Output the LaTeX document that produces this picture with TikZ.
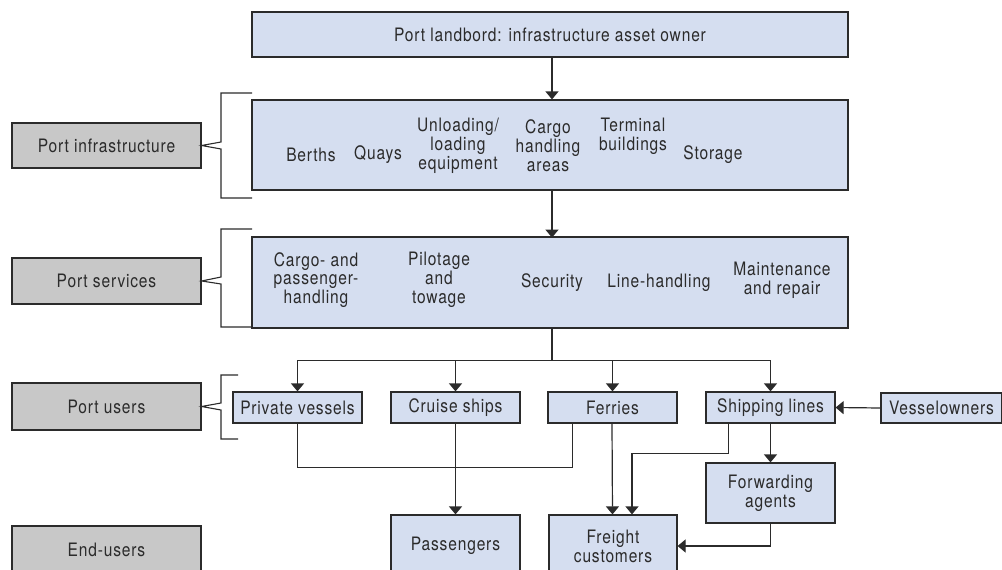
\documentclass[tikz,border=0pt]{standalone}
\usepackage{fontspec}
\setmainfont{TeX Gyre Heros}[FakeStretch=0.84,LetterSpace=4.5]
\usetikzlibrary{arrows.meta,calc}
\definecolor{boxblue}{HTML}{D5DEF0}
\definecolor{boxgray}{HTML}{C8C8C8}
\definecolor{ink}{HTML}{2B2B2B}
\begin{document}
\begin{tikzpicture}[x=1pt,y=-1pt,
  font=\fontsize{18.5}{18.8}\selectfont,
  every node/.style={text=ink},
  bluebox/.style={draw=ink,line width=1.2pt,fill=boxblue,inner sep=0pt,align=center},
  graybox/.style={draw=ink,line width=1.2pt,fill=boxgray,inner sep=0pt,
    minimum width=189pt,align=center},
  item/.style={align=center,inner sep=0pt},
  conn/.style={draw=ink,line width=1.2pt},
  arr/.style={conn,-{Triangle[width=13pt,length=8pt]}},
  bracket/.style={draw=ink,line width=1.1pt}]
\path[use as bounding box,clip] (0,0) rectangle (1002,570);

% main chain of blue boxes
\node[bluebox,minimum width=596pt,minimum height=45pt] (landlord) at (550,34.5)
  {Port landbord: infrastructure asset owner};
\node[bluebox,minimum width=596pt,minimum height=90pt] (infra) at (550,145) {};
\node[bluebox,minimum width=596pt,minimum height=91pt] (services) at (550,282.5) {};

% items inside the infrastructure box
\node[item] at (311,155) {Berths};
\node[item] at (378,155) {Quays};
\node[item] at (458,146) {Unloading/\\loading\\equipment};
\node[item] at (548,146) {Cargo\\handling\\areas};
\node[item] at (633,136) {Terminal\\buildings};
\node[item] at (713,155) {Storage};

% items inside the services box
\node[item] at (316,280) {Cargo- and\\passenger-\\handling};
\node[item] at (439,280) {Pilotage\\and\\towage};
\node[item] at (552,283) {Security};
\node[item] at (659,283) {Line-handling};
\node[item] at (782,280) {Maintenance\\and repair};

% port users
\node[bluebox,minimum width=129pt,minimum height=31pt] (pv) at (297.5,407.5) {Private vessels};
\node[bluebox,minimum width=129pt,minimum height=31pt] (cruise) at (455.5,407.5) {Cruise ships};
\node[bluebox,minimum width=129pt,minimum height=31pt] (ferries) at (612.5,407.5) {Ferries};
\node[bluebox,minimum width=129pt,minimum height=31pt] (shipping) at (770.5,407.5) {Shipping lines};
\node[bluebox,minimum width=121pt,minimum height=30pt] (vessel) at (941.5,408) {Vesselowners};
\node[bluebox,minimum width=129pt,minimum height=60pt] (forwarding) at (770.5,493) {Forwarding\\agents};

% end users
\node[bluebox,minimum width=129pt,minimum height=62pt] (passengers) at (455.5,546) {Passengers};
\node[bluebox,minimum width=128pt,minimum height=62pt] (freight) at (613,546) {Freight\\customers};

% level labels
\node[graybox,minimum height=45pt] (pinfra) at (106.5,145.5) {Port infrastructure};
\node[graybox,minimum height=46pt] (pserv) at (106.5,281) {Port services};
\node[graybox,minimum height=47pt] (pusers) at (106.5,406.5) {Port users};
\node[graybox,minimum height=48pt] (pend) at (106.5,550) {End-users};

% brackets joining labels to their level
\draw[bracket] (252,93) -- (221,93) -- (221,142) -- (pinfra.east) -- (221,149) -- (221,198) -- (252,198);
\draw[bracket] (252,229) -- (221,229) -- (221,277) -- (pserv.east) -- (221,284) -- (221,327) -- (252,327);
\draw[bracket] (238,375) -- (221,375) -- (221,403) -- (pusers.east) -- (221,410) -- (221,439) -- (238,439);

% vertical chain
\draw[arr] ($(landlord.south)+(2,0)$) -- ($(infra.north)+(2,0)$);
\draw[arr] ($(infra.south)+(2,0)$) -- ($(services.south)+(2,-91)$);

% distribution to port users
\draw[conn] ($(services.south)+(2,0)$) -- ++(0,32) coordinate (bus);
\draw[arr] (bus) -| (pv.north);
\draw[arr] (bus) -| (cruise.north);
\draw[arr] (bus) -| (ferries.north);
\draw[arr] (bus) -| (shipping.north);

% flows to end users
\draw[conn] (pv.south) -- ++(0,44) -| ($(ferries.south)+(-40,0)$);
\draw[arr] (cruise.south) -- (passengers.north);
\draw[arr] ($(ferries.south)+(-0.5,0)$) -- ($(freight.north)+(-0.5,0)$);
\draw[arr] ($(shipping.south)+(-42,0)$) -- ++(0,30) -| ($(freight.north)+(19,0)$);
\draw[arr] (shipping.south) -- (forwarding.north);
\draw[arr] (forwarding.south) |- (freight.east);
\draw[arr] (vessel.west) -- (shipping.east);
\end{tikzpicture}
\end{document}
